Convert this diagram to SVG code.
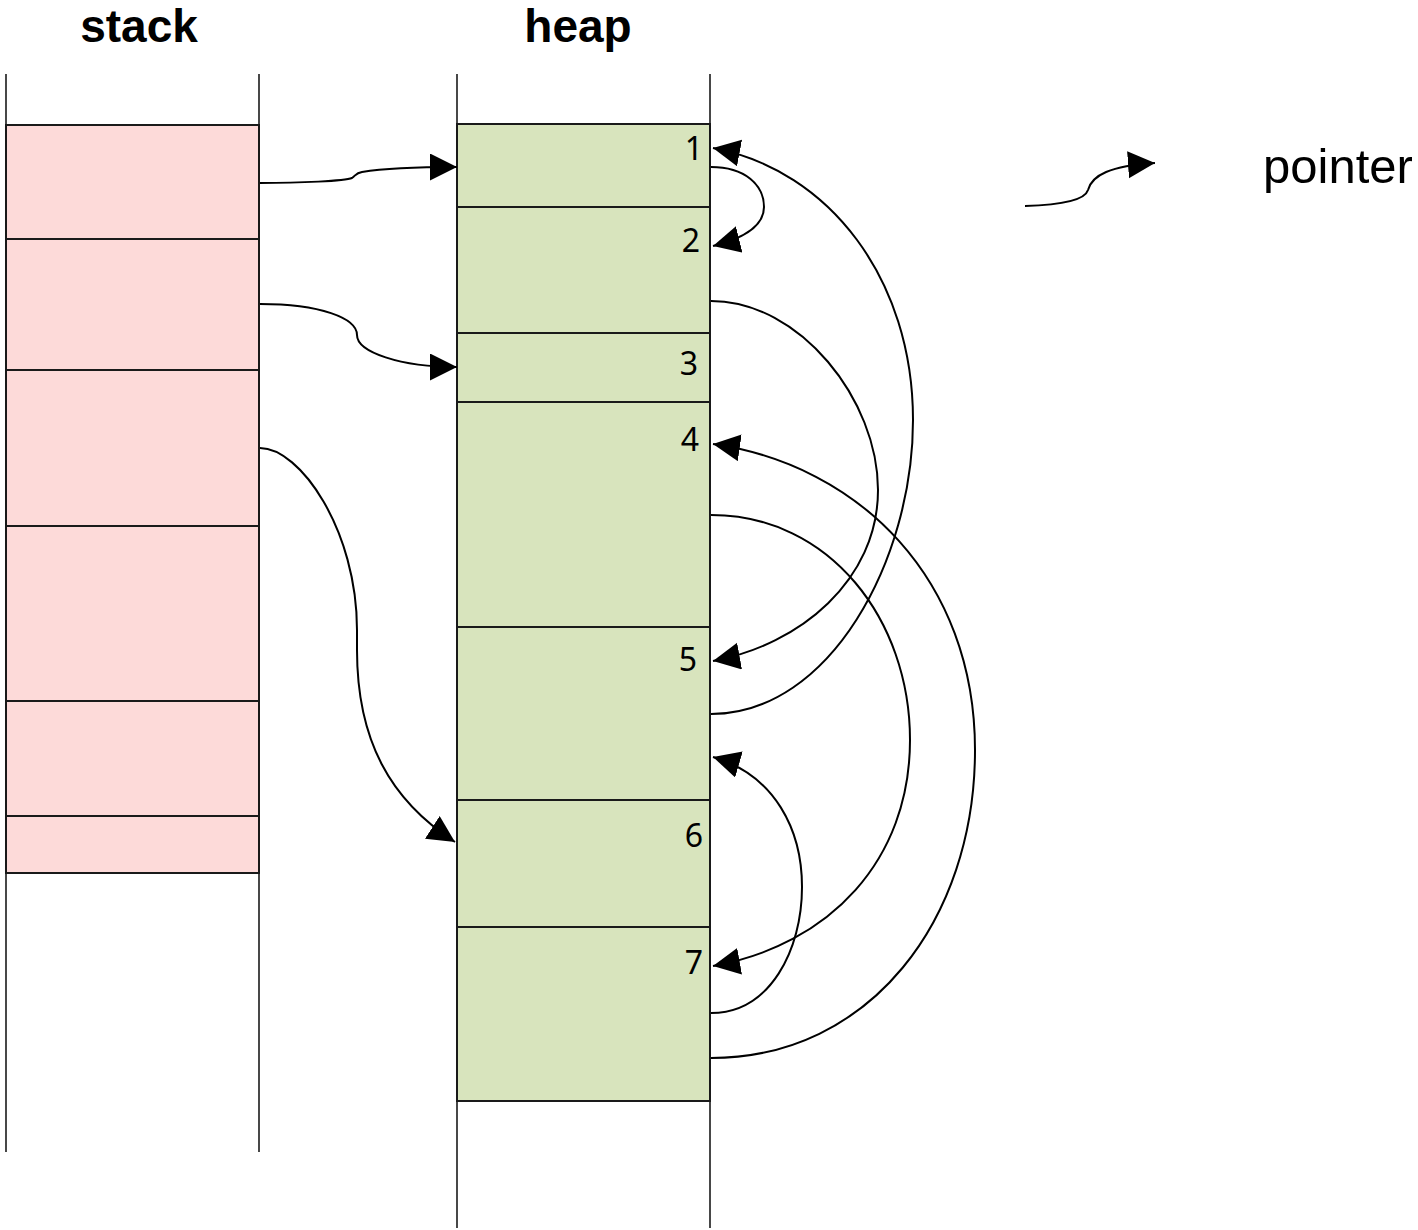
<svg xmlns="http://www.w3.org/2000/svg" width="1418" height="1230" viewBox="0 0 1418 1230">
  <style>
    .rail { stroke: #1a1a1a; stroke-width: 1.6; fill: none; }
    .sblk { fill: #fddad9; stroke: #1a1a1a; stroke-width: 2; }
    .hblk { fill: #d8e4bd; stroke: #1a1a1a; stroke-width: 2; }
    .title { font-family: "Liberation Sans", Arial, sans-serif; font-weight: bold; font-size: 46px; fill: #000; text-anchor: middle; }
    .num { font-family: "Noto Sans", "Open Sans", sans-serif; font-size: 32px; fill: #000; text-anchor: end; }
    .legend { font-family: "Liberation Sans", Arial, sans-serif; font-size: 49px; fill: #000; }
    .ptr { fill: none; stroke: #000; stroke-width: 2; marker-end: url(#arrow); }
  </style>
  <defs>
    <marker id="arrow" markerUnits="userSpaceOnUse" viewBox="0 0 28 28" markerWidth="28" markerHeight="28" refX="27" refY="13.5" orient="auto">
      <path d="M0,0 L27,13.5 L0,27 z" fill="#000"/>
    </marker>
  </defs>

  <!-- column titles -->
  <text class="title" x="139" y="42">stack</text>
  <text class="title" x="578" y="42">heap</text>

  <!-- stack column -->
  <g id="stack">
    <rect class="sblk" x="6" y="125" width="253" height="114"/>
    <rect class="sblk" x="6" y="239" width="253" height="131"/>
    <rect class="sblk" x="6" y="370" width="253" height="156"/>
    <rect class="sblk" x="6" y="526" width="253" height="175"/>
    <rect class="sblk" x="6" y="701" width="253" height="115"/>
    <rect class="sblk" x="6" y="816" width="253" height="57"/>
    <line class="rail" x1="6" y1="74" x2="6" y2="1152"/>
    <line class="rail" x1="259" y1="74" x2="259" y2="1152"/>
  </g>

  <!-- heap column -->
  <g id="heap">
    <g id="heap-1"><rect class="hblk" x="457" y="124" width="253" height="83"/><text class="num" x="703" y="160">1</text></g>
    <g id="heap-2"><rect class="hblk" x="457" y="207" width="253" height="126"/><text class="num" x="700" y="252">2</text></g>
    <g id="heap-3"><rect class="hblk" x="457" y="333" width="253" height="69"/><text class="num" x="698" y="375">3</text></g>
    <g id="heap-4"><rect class="hblk" x="457" y="402" width="253" height="225"/><text class="num" x="699" y="451">4</text></g>
    <g id="heap-5"><rect class="hblk" x="457" y="627" width="253" height="173"/><text class="num" x="697" y="671">5</text></g>
    <g id="heap-6"><rect class="hblk" x="457" y="800" width="253" height="127"/><text class="num" x="703" y="847">6</text></g>
    <g id="heap-7"><rect class="hblk" x="457" y="927" width="253" height="174"/><text class="num" x="703" y="974">7</text></g>
    <line class="rail" x1="457" y1="74" x2="457" y2="1228"/>
    <line class="rail" x1="710" y1="74" x2="710" y2="1228"/>
  </g>

  <!-- pointers -->
  <g id="connectors">
    <!-- stack to heap -->
    <path class="ptr" d="M260,183 C 300,183 345,181 352,178 C 356,175 356,173 362,172 C 380,169 410,167 457,167"/>
    <path class="ptr" d="M260,304 C 320,304 357,318 357,335 C 357,352 400,367 457,367"/>
    <path class="ptr" d="M260,448 C 300,448 357,530 357,630 L 357,650 C 357,740 390,800 455,842"/>
    <!-- heap to heap -->
    <path class="ptr" d="M711,167 C 745,167 764,185 764,207 C 764,225 745,238 713,246"/>
    <path class="ptr" d="M711,301 C 800,301 878,400 878,490 C 878,580 800,645 713,661"/>
    <path class="ptr" d="M711,714 C 830,714 913,560 913,420 C 913,280 830,170 713,148"/>
    <path class="ptr" d="M711,515 C 830,515 910,620 910,740 C 910,860 830,945 713,966"/>
    <path class="ptr" d="M711,1058 C 870,1058 975,920 975,750 C 975,580 860,465 713,444"/>
    <path class="ptr" d="M711,1013 C 770,1013 802,950 802,887 C 802,830 775,775 713,757"/>
  </g>

  <!-- legend -->
  <g id="legend">
    <path class="ptr" d="M1025,206 C 1060,205 1085,200 1088,190 C 1092,175 1110,166 1155,163"/>
    <text class="legend" x="1263" y="183">pointer</text>
  </g>
</svg>
